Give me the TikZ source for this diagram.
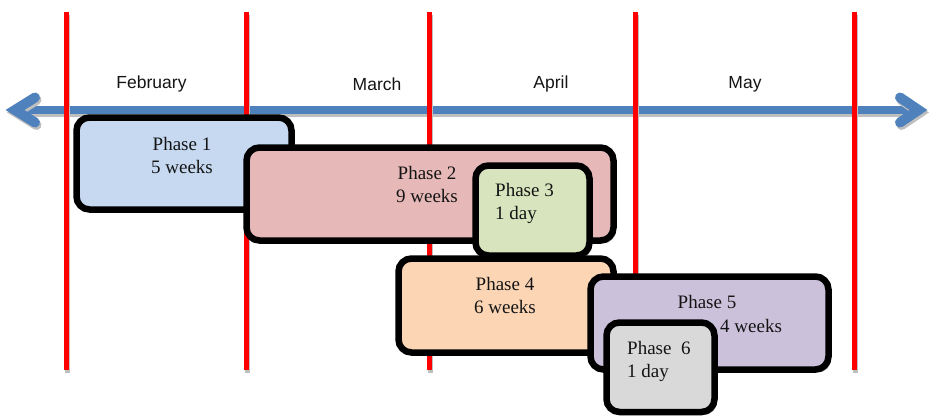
\documentclass[tikz,border=0pt]{standalone}
\usepackage{fontspec}
\setmainfont{Liberation Serif}
\newfontfamily\monthfont{Liberation Sans}
\usetikzlibrary{shadows}
\definecolor{axisblue}{HTML}{4F81BD}
\definecolor{monthred}{HTML}{FF0000}
\definecolor{pone}{HTML}{C6D9F1}
\definecolor{ptwo}{HTML}{E6B9B8}
\definecolor{pthree}{HTML}{D7E4BD}
\definecolor{pfour}{HTML}{FCD5B5}
\definecolor{pfive}{HTML}{CCC1DA}
\definecolor{psix}{HTML}{D9D9D9}
\tikzset{
  phasebox/.style={draw=black, line width=6.5pt, rounded corners=13pt, inner sep=0pt,
    drop shadow={shadow xshift=2.5pt, shadow yshift=-3pt, fill=black, opacity=0.3}},
  ptext/.style={font=\fontsize{19}{23}\selectfont, inner sep=0pt, align=center, text=black!92},
  ltext/.style={font=\fontsize{19}{23}\selectfont, inner sep=0pt, align=left, anchor=west, text=black!92},
  mtext/.style={font=\monthfont\fontsize{17.5}{20}\selectfont, inner sep=0pt, text=black!92},
  divider/.style={draw=monthred, line width=5pt,
    preaction={draw=black!25, line width=5pt, transform canvas={shift={(1.5pt,-2.5pt)}}}},
  axisline/.style={draw=axisblue, line width=8pt,
    preaction={draw=black!25, line width=8pt, transform canvas={shift={(1.5pt,-2.5pt)}}}},
  axishead/.style={draw=axisblue, line width=10pt, line cap=round, line join=miter,
    preaction={draw=black!25, line width=10pt, line cap=round, line join=miter, transform canvas={shift={(1.5pt,-2.5pt)}}}},
}
\begin{document}
\begin{tikzpicture}[x=1pt,y=-1pt]
\useasboundingbox (0,0) rectangle (930,418);
% timeline axis
\coordinate (axL) at (15,110);
\coordinate (axR) at (918.5,110);
\coordinate (axLa) at (35,97.5);
\coordinate (axLb) at (35,122.5);
\coordinate (axRa) at (900,97.5);
\coordinate (axRb) at (900,122.5);
\draw[axisline] (axL) -- (axR);
\draw[axishead] (axLa) -- (axL) -- (axLb);
\draw[axishead] (axRa) -- (axR) -- (axRb);
% month dividers
\foreach \i/\x in {1/66,2/246,3/429,4/635,5/854}{
  \coordinate (dt\i) at (\x,12);
  \coordinate (db\i) at (\x,370);
  \draw[divider] (dt\i) -- (db\i);
}
% month labels
\node[mtext] (feb) at (151.5,84) {February};
\node[mtext] (mar) at (377,84) {March};
\node[mtext] (apr) at (551,84) {April};
\node[mtext] (may) at (745,84) {May};
% phases
\node[phasebox, fill=pone, minimum width=215pt, minimum height=92pt] (p1) at (184,163.5) {};
\node[ptext] (p1t) at (182,155.5) {Phase 1\\5 weeks};
\node[phasebox, fill=ptwo, minimum width=367pt, minimum height=93pt] (p2) at (430,194) {};
\node[ptext] (p2t) at (427,184.5) {Phase 2\\9 weeks};
\node[phasebox, fill=pthree, minimum width=114pt, minimum height=90pt] (p3) at (532.5,210.5) {};
\node[ltext] (p3t) at (495,203) {Phase 3\\1 day};
\node[phasebox, fill=pfour, minimum width=215pt, minimum height=94pt] (p4) at (506,305.5) {};
\node[ptext] (p4t) at (505,295.5) {Phase 4\\6 weeks};
\node[phasebox, fill=pfive, minimum width=238pt, minimum height=93pt] (p5) at (709.5,323) {};
\node[ptext] (p5t) at (707,302) {Phase 5};
\node[ltext] (p5w) at (720,326) {4 weeks};
\node[phasebox, fill=psix, minimum width=108pt, minimum height=89.5pt] (p6) at (660.5,367.25) {};
\node[ltext] (p6t) at (627,361.5) {Phase\ \ 6\\1 day};
\end{tikzpicture}
\end{document}
